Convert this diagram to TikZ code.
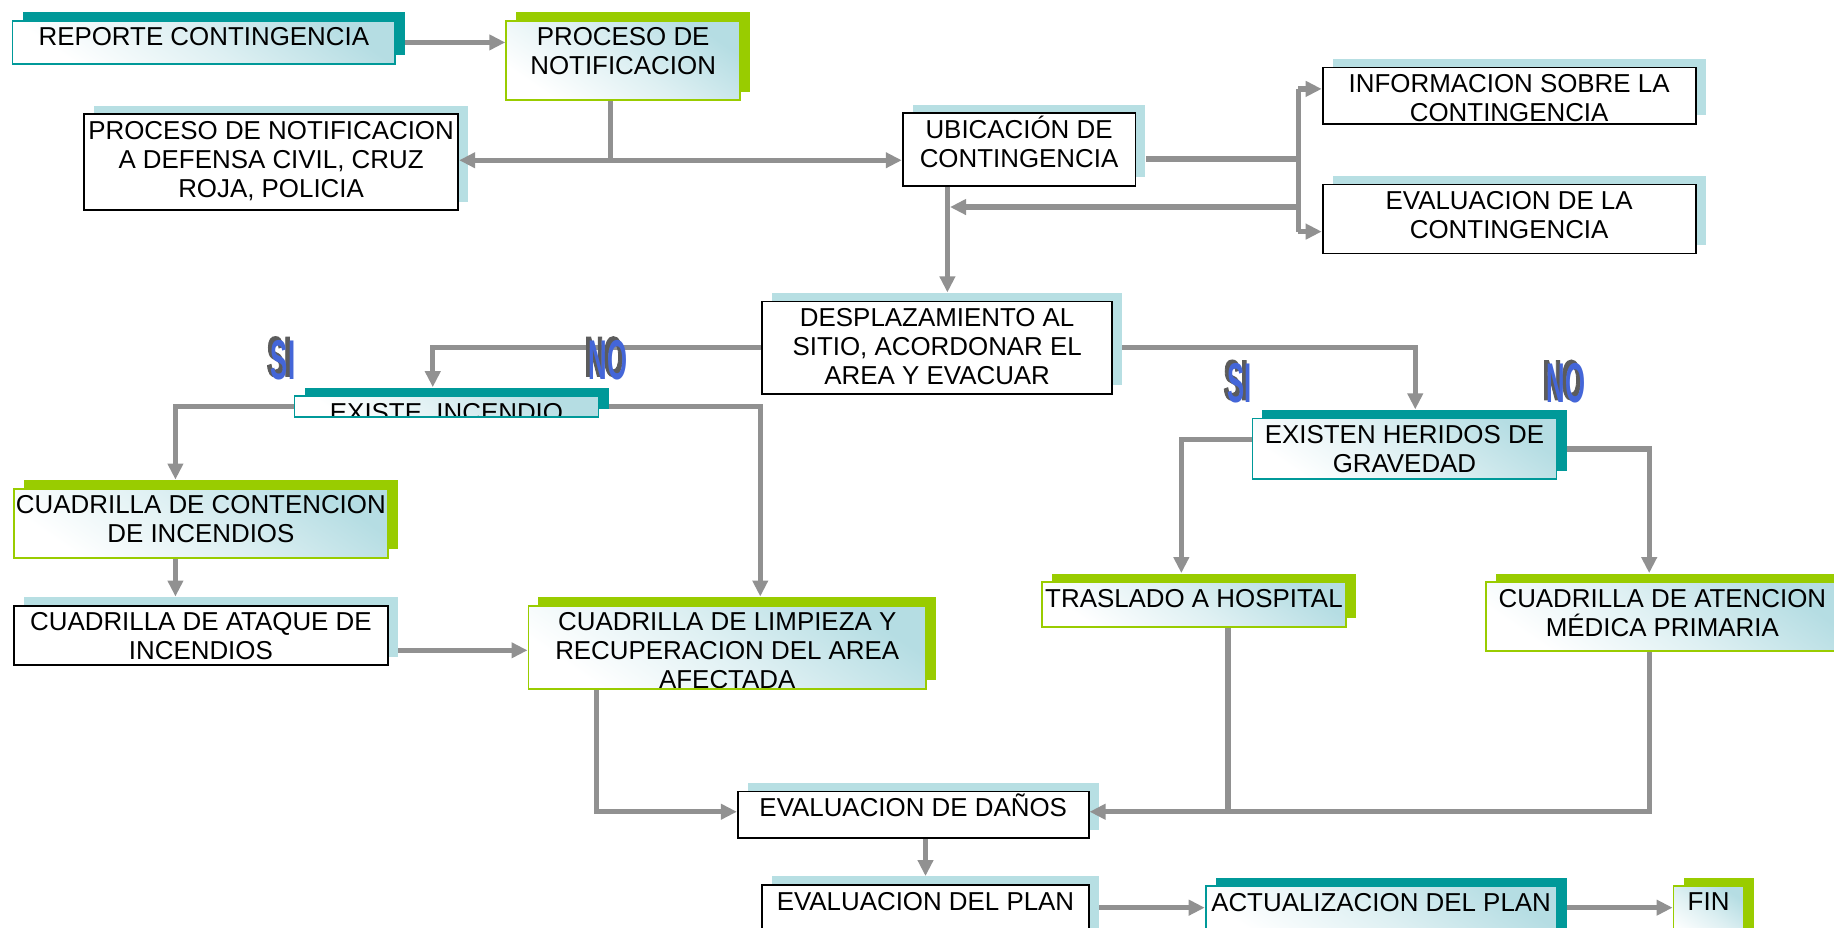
\documentclass[tikz,border=0pt]{standalone}
\usepackage{fontspec}
\usepackage{graphicx}
\setmainfont{Liberation Sans}
\newfontfamily\waextrude[FakeBold=3]{Liberation Sans Bold}
\newfontfamily\wafrontfont{Liberation Sans Bold}
\usetikzlibrary{arrows.meta}
\definecolor{tealc}{HTML}{009999}
\definecolor{greenc}{HTML}{99CC00}
\definecolor{shblue}{HTML}{B7DFE3}
\definecolor{grblue}{HTML}{B5DDE3}
\definecolor{conncol}{HTML}{919191}
\definecolor{wablue}{HTML}{4466D8}
\definecolor{wagray}{HTML}{5C5C5C}
\tikzset{
  plainbox/.style={draw=black, line width=0.9pt, fill=white},
  gradfill/.style={top color=grblue, bottom color=white, middle color=grblue!45!white, shading angle=-35},
  tealbox/.style={draw=tealc, line width=0.9pt, gradfill},
  greenbox/.style={draw=greenc, line width=0.9pt, gradfill},
  txt/.style={anchor=north, inner sep=0pt, minimum size=0pt, align=center,
    font=\fontsize{12.95}{14.6}\selectfont, text=black},
  conn/.style={draw=conncol, line width=2.7pt},
  arr/.style={conn, -{Triangle[length=8pt,width=7.5pt]}},
  dblarr/.style={conn, {Triangle[length=8pt,width=7.5pt]}-{Triangle[length=8pt,width=7.5pt]}},
  waback/.style={inner sep=0pt, font=\fontsize{28}{28}\waextrude, text=wagray},
  wafront/.style={inner sep=0pt, font=\fontsize{28}{28}\wafrontfont, text=wablue},
}
\newcommand\flowbox[8]{%
  \node[fill=#3, draw=none, anchor=north west, inner sep=0pt,
    minimum width={(#6-#4)*0.58485pt}, minimum height={(#7-#5)*0.58485pt}] (#1s) at (#4+9,#5-7) {};
  \node[#2, anchor=north west, inner sep=0pt,
    minimum width={(#6-#4)*0.58485pt}, minimum height={(#7-#5)*0.58485pt},
    path picture={\node[txt] at ([yshift=-2.96pt]path picture bounding box.north) {#8};}] (#1) at (#4,#5) {};
}
\newcommand\wordart[4]{%
  \node[waback] (#1b) at (#2-3.5,#3-3) {\scalebox{0.46}[1]{#4}};
  \node[wafront] (#1) at (#2,#3) {\scalebox{0.46}[1]{#4}};
}
\begin{document}
\begin{tikzpicture}[x=0.58485pt, y=-0.58485pt]
\useasboundingbox (0,0) rectangle (1568,793);
\fill[white] (0,0) rectangle (1568,793);

% boxes
\flowbox{rep}{tealbox}{tealc}{10}{17}{337}{54}{REPORTE CONTINGENCIA}
\flowbox{proc}{greenbox}{greenc}{432}{17}{632}{85}{PROCESO DE\\NOTIFICACION}
\flowbox{notif}{plainbox}{shblue}{71}{97}{391}{179}{PROCESO DE NOTIFICACION\\A DEFENSA CIVIL, CRUZ\\ROJA, POLICIA}
\flowbox{ubic}{plainbox}{shblue}{771}{96}{970}{158}{UBICACI\smash{Ó}N DE\\CONTINGENCIA}
\flowbox{info}{plainbox}{shblue}{1130}{57}{1449}{105}{INFORMACION SOBRE LA\\CONTINGENCIA}
\flowbox{evalc}{plainbox}{shblue}{1130}{157}{1449}{216}{EVALUACION DE LA\\CONTINGENCIA}
\flowbox{desp}{plainbox}{shblue}{651}{257}{950}{336}{DESPLAZAMIENTO AL\\SITIO, ACORDONAR EL\\AREA Y EVACUAR}
\flowbox{exist}{tealbox}{tealc}{251}{338}{511}{356}{EXISTE\ \ INCENDIO}
\flowbox{cont}{greenbox}{greenc}{11}{417}{331}{476}{CUADRILLA DE CONTENCION\\DE INCENDIOS}
\flowbox{atq}{plainbox}{shblue}{11}{517}{331}{568}{CUADRILLA DE ATAQUE DE\\INCENDIOS}
\flowbox{limp}{greenbox}{greenc}{451}{517}{791}{588}{CUADRILLA DE LIMPIEZA Y\\RECUPERACION DEL AREA\\AFECTADA}
\flowbox{her}{tealbox}{tealc}{1070}{357}{1330}{409}{EXISTEN HERIDOS DE\\GRAVEDAD}
\flowbox{tras}{greenbox}{greenc}{890}{497}{1150}{535}{TRASLADO A HOSPITAL}
\flowbox{aten}{greenbox}{greenc}{1270}{497}{1571}{556}{CUADRILLA DE ATENCION\\M\smash{É}DICA PRIMARIA}
\flowbox{danos}{plainbox}{shblue}{630}{676}{930}{716}{EVALUACION DE DA\smash{Ñ}OS}
\flowbox{plan}{plainbox}{shblue}{651}{756}{930}{805}{EVALUACION DEL PLAN}
\flowbox{act}{tealbox}{tealc}{1030}{757}{1330}{805}{ACTUALIZACION DEL PLAN}
\flowbox{fin}{greenbox}{greenc}{1430}{757}{1490}{805}{FIN}

% connectors
\draw[arr] (reps.east |- rep.east) -- (proc.west |- rep.east);
\coordinate (c1) at (522,137);
\draw[conn] (c1 |- proc.south) -- (c1);
\draw[dblarr] (notif.east |- c1) -- (ubic.west |- c1);
\coordinate (c2) at (1110,136);
\coordinate (c3) at (1110,76);
\coordinate (c4) at (1110,198);
\coordinate (c5) at (1110,177);
\draw[conn] (ubics.east |- c2) -- (c2);
\draw[conn] (c3) -- (c4);
\draw[arr] (c3) -- (info.west |- c3);
\draw[arr] (c4) -- (evalc.west |- c4);
\coordinate (c6) at (810,0);
\draw[arr] (c6 |- ubic.south) -- (c6 |- desps.north);
\draw[arr] (c5) -- ([xshift=1.3pt]c6 |- c5);
\coordinate (c7) at (370,0);
\draw[arr] (desp.west) -| (c7 |- exists.north);
\coordinate (c8) at (1210,0);
\draw[arr] (desps.east |- desp.east) -| (c8 |- hers.north);
\coordinate (c9) at (150,0);
\draw[arr] (exist.west) -| (c9 |- conts.north);
\coordinate (c10) at (650,0);
\draw[arr] (exists.east |- exist.east) -| (c10 |- limps.north);
\draw[arr] (c9 |- cont.south) -- (c9 |- atqs.north);
\coordinate (c11) at (0,556);
\draw[arr] (atqs.east |- c11) -- (limp.west |- c11);
\coordinate (c12) at (1010,376);
\draw[arr] (her.west |- c12) -| (c12 |- trass.north);
\coordinate (c13) at (1410,384);
\draw[arr] (hers.east |- c13) -| (c13 |- atens.north);
\coordinate (c14) at (510,694);
\draw[arr] (c14 |- limp.south) |- (danos.west |- c14);
\coordinate (c15) at (1050,0);
\draw[conn] (c15 |- tras.south) -- (c15 |- c14);
\draw[arr] (c13 |- aten.south) |- (danos.east |- c14);
\draw[arr] (plan.center |- danos.south) -- (plan.center |- plans.north);
\coordinate (c16) at (0,776);
\draw[arr] (plans.east |- c16) -- (act.west |- c16);
\draw[arr] (acts.east |- c16) -- (fin.west |- c16);

% word art labels
\wordart{si1}{242}{308}{SI}
\wordart{no1}{520}{308}{NO}
\wordart{si2}{1060}{328}{SI}
\wordart{no2}{1339}{328}{NO}
\end{tikzpicture}
\end{document}
